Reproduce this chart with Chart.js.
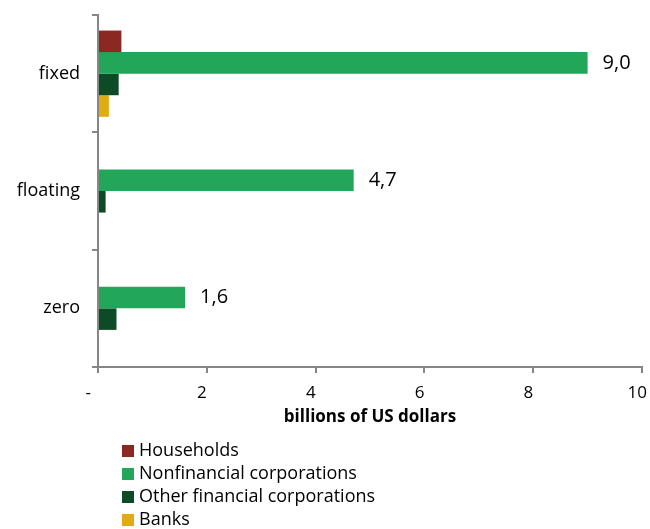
<!DOCTYPE html>
<html>
<head>
<meta charset="utf-8">
<script src="https://cdn.jsdelivr.net/npm/chart.js@4/dist/chart.umd.min.js"></script>
<style>
html,body{margin:0;padding:0;background:#fff;width:650px;height:529px;overflow:hidden;}
#wrap{position:relative;width:650px;height:529px;}
#c{position:absolute;left:0;top:0;}
#legend{position:absolute;left:122px;top:438px;font-family:"Open Sans",sans-serif;font-size:18px;color:#000;}
.item{height:23px;line-height:23px;white-space:nowrap;}
.box{display:inline-block;width:12px;height:12px;margin-right:5px;vertical-align:-1px;}
</style>
</head>
<body>
<div id="wrap">
<canvas id="c" width="650" height="440"></canvas>
<div id="legend"></div>
</div>
<script>
const categories = ["fixed", "floating", "zero"];
const seriesNames = ["Households", "Nonfinancial corporations", "Other financial corporations", "Banks"];
const households = [0.43, 0, 0];
const nonfinancial = [9.0, 4.7, 1.6];
const otherFinancial = [0.38, 0.14, 0.34];
const banks = [0.2, 0, 0];
const xTickValues = [0, 2, 4, 6, 8, 10];
// accounting-style labels with trailing padding, as in the original
const xTickLabels = ["-\u2007\u2007", "2\u2007", "4\u2007", "6\u2007", "8\u2007", "10\u2007"];
const axisTitle = "billions of US dollars";
const colors = ["#8B2822", "#21A65A", "#0D4B26", "#E1AB14"];

const seriesData = [households, nonfinancial, otherFinancial, banks];
const datasets = seriesNames.map((n, i) => ({
  label: n,
  data: seriesData[i],
  backgroundColor: colors[i],
  borderWidth: 0,
  categoryPercentage: 0.735,
  barPercentage: 1.0
}));

const labelPlugin = {
  id: 'valLabels',
  afterDatasetsDraw(chart) {
    const ctx = chart.ctx;
    const meta = chart.getDatasetMeta(1);
    ctx.save();
    ctx.font = '20px "Open Sans", sans-serif';
    ctx.fillStyle = '#000';
    ctx.textBaseline = 'middle';
    ctx.textAlign = 'left';
    meta.data.forEach((el, i) => {
      const v = nonfinancial[i];
      ctx.fillText(v.toFixed(1).replace('.', ','), el.x + 15, el.y);
    });
    ctx.restore();
  }
};

new Chart(document.getElementById('c'), {
  type: 'bar',
  data: { labels: categories, datasets },
  options: {
    indexAxis: 'y',
    responsive: false,
    animation: false,
    layout: { padding: { top: 15, right: 8, left: 0, bottom: 13 } },
    plugins: { legend: { display: false }, tooltip: { enabled: false } },
    scales: {
      x: {
        min: 0, max: 10,
        afterFit(s) { s.height = 60; s.paddingLeft = 0; s.paddingRight = 0; },
        afterBuildTicks(s) { s.ticks = xTickValues.map(v => ({ value: v })); },
        ticks: {
          callback: (v) => xTickLabels[xTickValues.indexOf(v)],
          color: '#000', font: { family: '"Open Sans", sans-serif', size: 17 }, padding: 10,
          maxRotation: 0
        },
        grid: { drawOnChartArea: false, drawTicks: true, tickLength: 6, color: '#868686', lineWidth: 2 },
        border: { color: '#868686', width: 2 },
        title: { display: true, text: axisTitle, color: '#000', font: { family: '"Open Sans", sans-serif', size: 17, weight: 'bold' }, padding: { top: 0, bottom: 0 } }
      },
      y: {
        afterFit(s) { s.width = 98; s.paddingTop = 0; s.paddingBottom = 0; },
        ticks: { color: '#000', font: { family: '"Open Sans", sans-serif', size: 18 }, padding: 12 },
        grid: { drawOnChartArea: false, drawTicks: true, tickLength: 6, color: '#868686', lineWidth: 2 },
        border: { color: '#868686', width: 2 }
      }
    }
  },
  plugins: [labelPlugin]
});

const lg = document.getElementById('legend');
seriesNames.forEach((n, i) => {
  const d = document.createElement('div');
  d.className = 'item';
  d.innerHTML = '<span class="box" style="background:' + colors[i] + '"></span>' + n;
  lg.appendChild(d);
});
</script>
</body>
</html>
